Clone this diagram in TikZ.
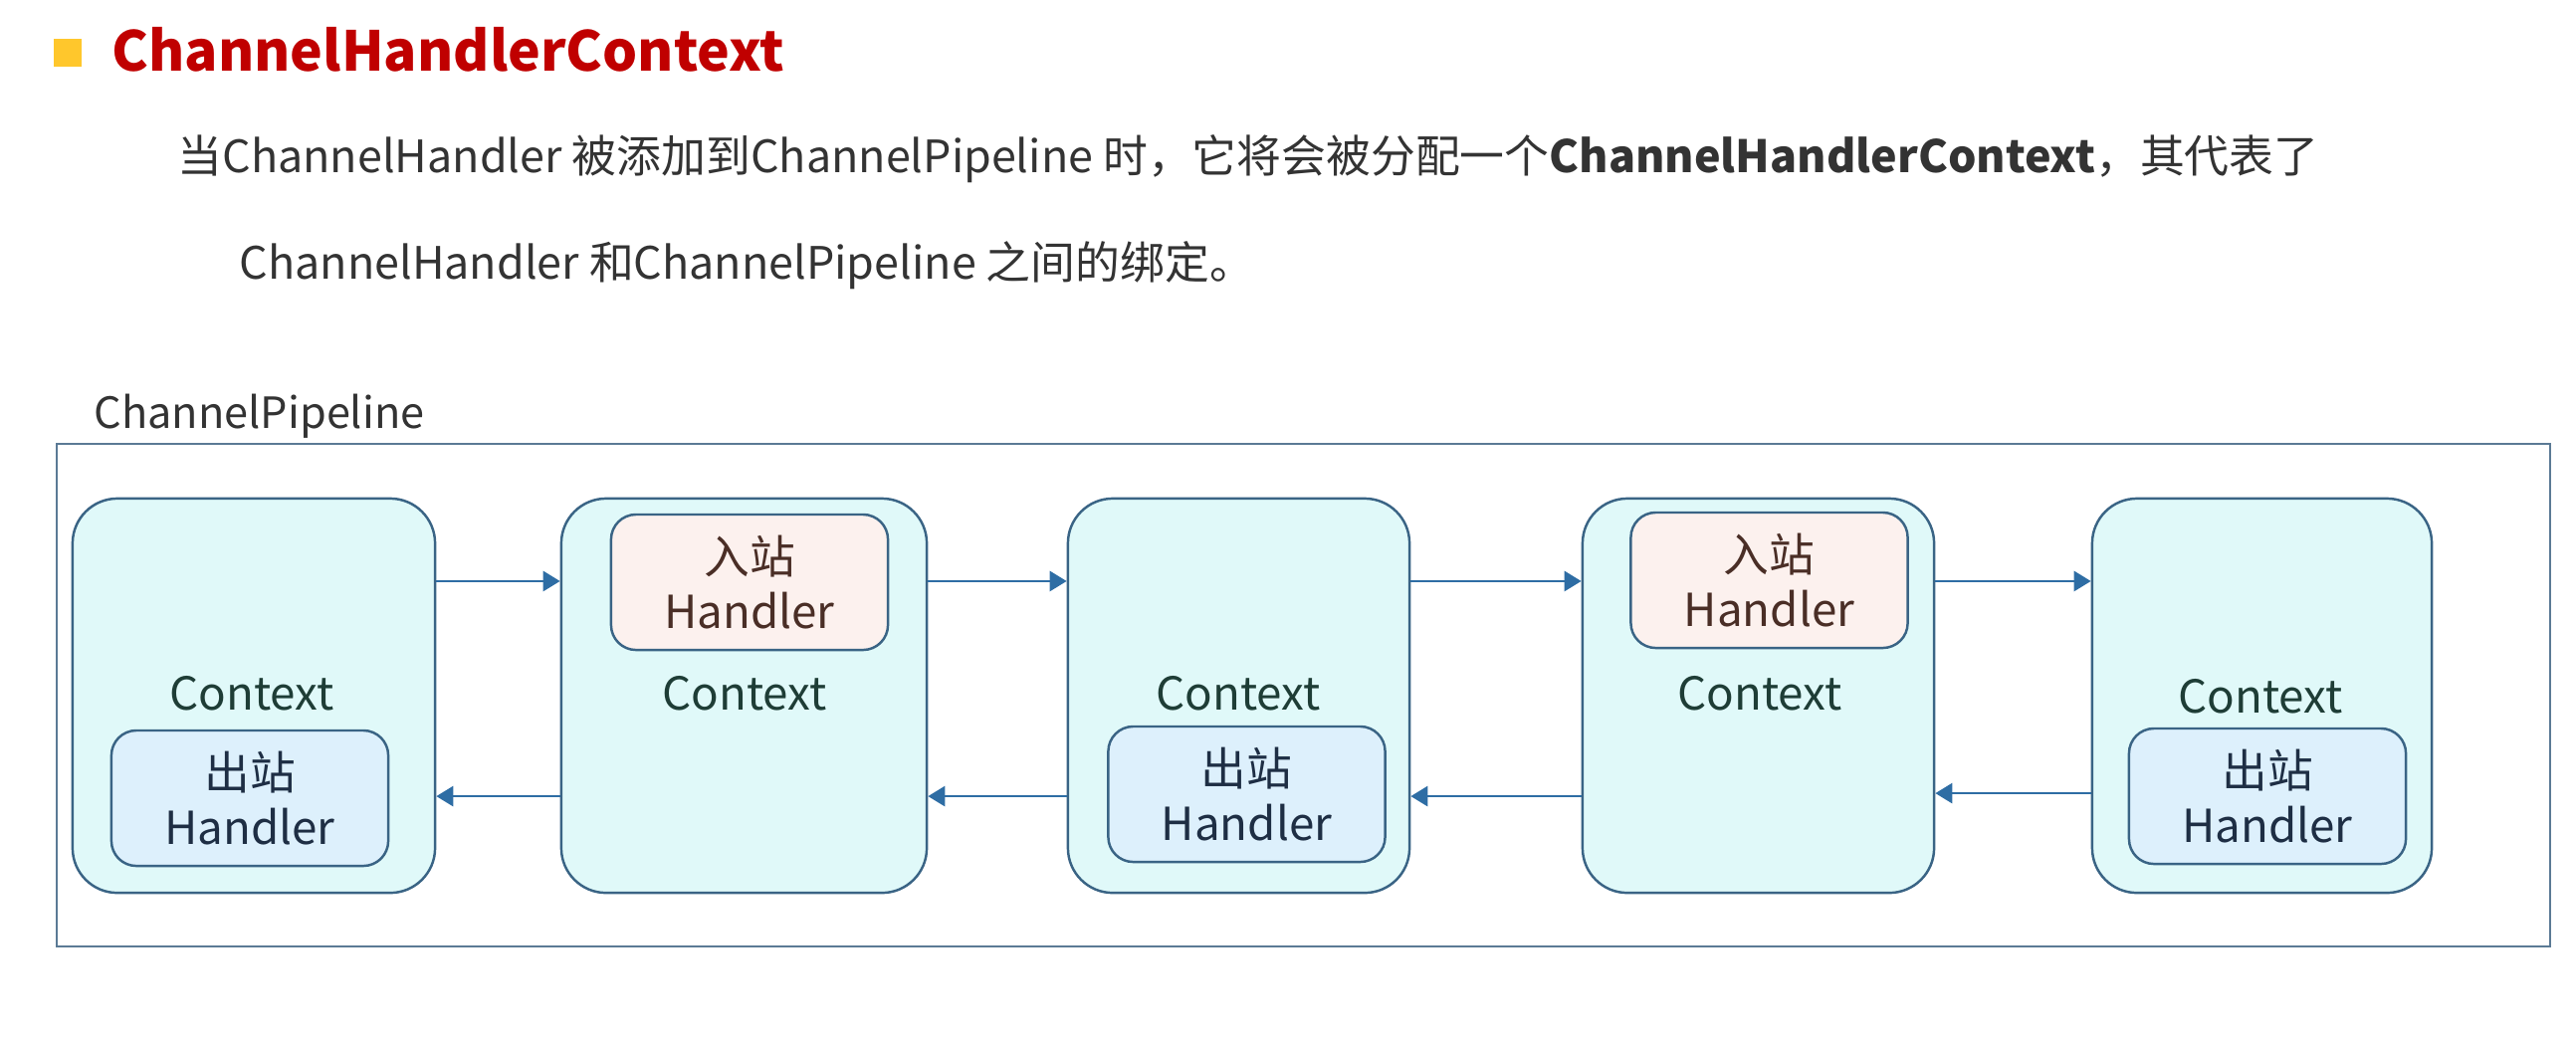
\documentclass[tikz,border=0pt]{standalone}
\usepackage{fontspec}
\setmainfont{Noto Sans CJK SC}
\usetikzlibrary{arrows.meta}
\definecolor{titlered}{HTML}{C00000}
\definecolor{bullet}{HTML}{FFC72C}
\definecolor{bodytext}{HTML}{333333}
\definecolor{framecol}{HTML}{5B7A95}
\definecolor{ctxfill}{HTML}{E0F9F9}
\definecolor{ctxline}{HTML}{3A6485}
\definecolor{ctxtext}{HTML}{1E3D36}
\definecolor{infill}{HTML}{FCF1EE}
\definecolor{outfill}{HTML}{DDF0FC}
\definecolor{intext}{HTML}{4A2E26}
\definecolor{outtext}{HTML}{1E2E44}
\definecolor{flowblue}{HTML}{2E6DA4}

\begin{document}
\begin{tikzpicture}[x=0.01cm,y=-0.01cm,
	ctx/.style={draw=ctxline,fill=ctxfill,line width=0.7pt,rounded corners=0.45cm,minimum height=3.96cm,inner sep=0pt},
	handler/.style={draw=ctxline,line width=0.7pt,rounded corners=0.25cm,minimum width=2.78cm,minimum height=1.36cm,inner sep=0pt,align=center,font=\fontsize{13}{15.5}\selectfont},
	inbound/.style={handler,fill=infill,text=intext},
	outbound/.style={handler,fill=outfill,text=outtext},
	ctxlabel/.style={anchor=base,inner sep=0pt,text=ctxtext,font=\fontsize{13}{15.5}\selectfont},
	flow/.style={-{Triangle[length=0.17cm,width=0.2cm]},draw=flowblue,line width=0.8pt}]
	\useasboundingbox (0,0) rectangle (2588,1044);

	\node[fill=bullet,minimum size=0.28cm,inner sep=0pt] (bullet) at (68,53) {};
	\node[anchor=base west,inner sep=0pt,text=titlered,font=\fontsize{15.7}{19}\selectfont\bfseries] (title) at (112,71) {ChannelHandlerContext};
	\node[anchor=base west,inner sep=0pt,text=bodytext,font=\fontsize{12.75}{15}\selectfont] (line1) at (178,173) {当ChannelHandler 被添加到ChannelPipeline 时，它将会被分配一个\textbf{ChannelHandlerContext}，其代表了};
	\node[anchor=base west,inner sep=0pt,text=bodytext,font=\fontsize{12.75}{15}\selectfont] (line2) at (240,280) {ChannelHandler 和ChannelPipeline 之间的绑定。};

	\node[anchor=base west,inner sep=0pt,text=bodytext,font=\fontsize{12.3}{15}\selectfont] (pipelabel) at (94,430) {ChannelPipeline};
	\draw[framecol,line width=0.8pt] (57,446) rectangle (2562,951);

	\node[ctx,minimum width=3.64cm] (ctx1) at (255,699) {};
	\node[ctx,minimum width=3.67cm] (ctx2) at (747.5,699) {};
	\node[ctx,minimum width=3.43cm] (ctx3) at (1244.5,699) {};
	\node[ctx,minimum width=3.53cm] (ctx4) at (1766.5,699) {};
	\node[ctx,minimum width=3.41cm] (ctx5) at (2272.5,699) {};

	\node[ctxlabel] (lbl1) at (253,713) {Context};
	\node[ctxlabel] (lbl2) at (748,713) {Context};
	\node[ctxlabel] (lbl3) at (1244,713) {Context};
	\node[ctxlabel] (lbl4) at (1768,713) {Context};
	\node[ctxlabel] (lbl5) at (2271,716) {Context};

	\node[outbound] (out1) at (251,802) {出站\\Handler};
	\node[inbound] (in2) at (753,585) {入站\\Handler};
	\node[outbound] (out3) at (1252.5,798) {出站\\Handler};
	\node[inbound] (in4) at (1777.5,583) {入站\\Handler};
	\node[outbound] (out5) at (2278,800) {出站\\Handler};

	\draw[flow] ([yshift=1.15cm]ctx1.east) -- ([yshift=1.15cm]ctx2.west);
	\draw[flow] ([yshift=1.15cm]ctx2.east) -- ([yshift=1.15cm]ctx3.west);
	\draw[flow] ([yshift=1.15cm]ctx3.east) -- ([yshift=1.15cm]ctx4.west);
	\draw[flow] ([yshift=1.15cm]ctx4.east) -- ([yshift=1.15cm]ctx5.west);
	\draw[flow] ([yshift=-1.01cm]ctx2.west) -- ([yshift=-1.01cm]ctx1.east);
	\draw[flow] ([yshift=-1.01cm]ctx3.west) -- ([yshift=-1.01cm]ctx2.east);
	\draw[flow] ([yshift=-1.01cm]ctx4.west) -- ([yshift=-1.01cm]ctx3.east);
	\draw[flow] ([yshift=-0.98cm]ctx5.west) -- ([yshift=-0.98cm]ctx4.east);
\end{tikzpicture}
\end{document}
